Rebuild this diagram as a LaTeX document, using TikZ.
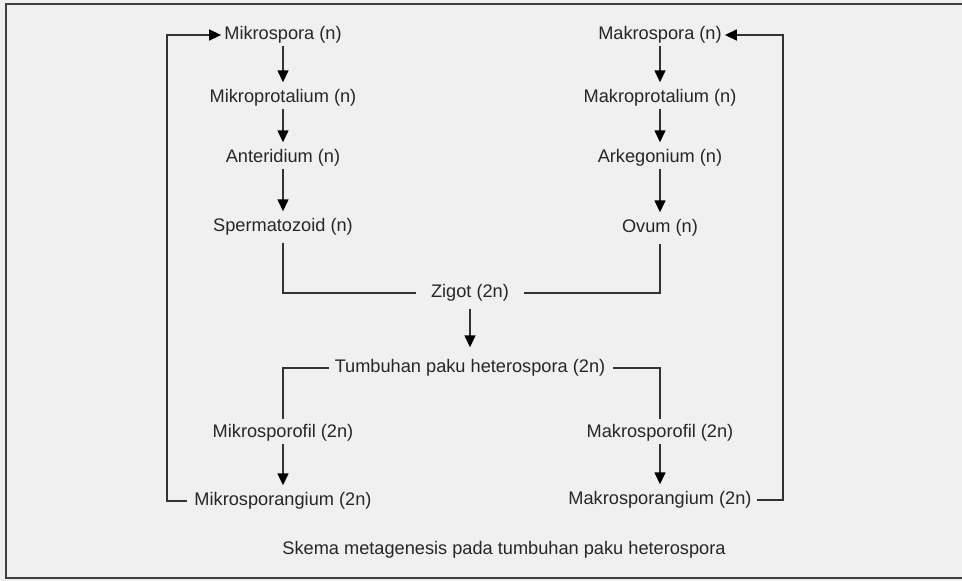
\documentclass[tikz,border=0pt]{standalone}
\usepackage{fontspec}
\setmainfont{Liberation Sans}
\usetikzlibrary{arrows.meta}
\definecolor{bg}{HTML}{F0F0F0}
\definecolor{ln}{HTML}{333333}
\tikzset{
  lbl/.style={inner xsep=3pt, inner ysep=0pt, text height=14pt, text depth=5pt, font=\fontsize{18.2}{20}\selectfont, text=black!85},
  arr/.style={draw=ln, line width=1.4pt, -{Triangle[length=12pt,width=11pt,color=black]}},
  varr/.style={arr, shorten <=1pt, shorten >=6pt},
  con/.style={draw=ln, line width=1.4pt},
  frame/.style={draw=black!75, line width=2.6pt}
}
\begin{document}
\begin{tikzpicture}[x=1pt,y=-1pt]
\useasboundingbox (0,0) rectangle (962,581);
\fill[bg] (0,0) rectangle (962,581);
\draw[frame] (962,4) -- (6,4) -- (6,578) -- (962,578);

% left column
\node[lbl] (msp)  at (283,35)  {Mikrospora (n)};
\node[lbl] (mpt)  at (283,98)  {Mikroprotalium (n)};
\node[lbl] (ant)  at (283,158) {Anteridium (n)};
\node[lbl] (spz)  at (283,227) {Spermatozoid (n)};
\node[lbl] (mspf) at (283,433) {Mikrosporofil (2n)};
\node[lbl] (msg)  at (283,501) {Mikrosporangium (2n)};
% right column
\node[lbl] (Msp)  at (660,35)  {Makrospora (n)};
\node[lbl] (Mpt)  at (660,98)  {Makroprotalium (n)};
\node[lbl] (ark)  at (660,158) {Arkegonium (n)};
\node[lbl] (ovm)  at (660,228) {Ovum (n)};
\node[lbl] (Mspf) at (660,433) {Makrosporofil (2n)};
\node[lbl] (Msg)  at (660,500) {Makrosporangium (2n)};
% middle
\node[lbl] (zg) at (470,293) {Zigot (2n)};
\node[lbl] (tph) at (470,368) {Tumbuhan paku heterospora (2n)};
\node[lbl] (cap) at (504,550) {Skema metagenesis pada tumbuhan paku heterospora};

\coordinate (L) at (167,0);
\coordinate (R) at (783,0);

% vertical arrows
\draw[varr] (msp.south) -- (mpt.north);
\draw[varr] (mpt.south) -- (ant.north);
\draw[varr] (ant.south) -- (spz.north);
\draw[varr] (mspf.south) -- (msg.north);
\draw[varr] (Msp.south) -- (Mpt.north);
\draw[varr] (Mpt.south) -- (ark.north);
\draw[varr] (ark.south) -- (ovm.north);
\draw[varr] (Mspf.south) -- (Msg.north);
\draw[arr, shorten <=6pt, shorten >=11pt] (zg.south) -- (tph.north);

% fusion to zygote
\draw[con, shorten <=6pt] (spz.south) |- ([xshift=-12pt]zg.west);
\draw[con, shorten <=6pt] (ovm.south) |- ([xshift=12pt]zg.east);

% bracket from plant
\draw[con, shorten >=4pt] ([xshift=-3pt]tph.west) -| (mspf.north);
\draw[con, shorten >=4pt] ([xshift=5pt]tph.east) -| (Mspf.north);

% loops back to spores
\draw[arr] ([xshift=-4pt]msg.west) -- (msg.west -| L) -- (msp.west -| L) -- (msp.west);
\draw[arr] ([xshift=2pt]Msg.east) -- (Msg.east -| R) -- (Msp.east -| R) -- (Msp.east);
\end{tikzpicture}
\end{document}
